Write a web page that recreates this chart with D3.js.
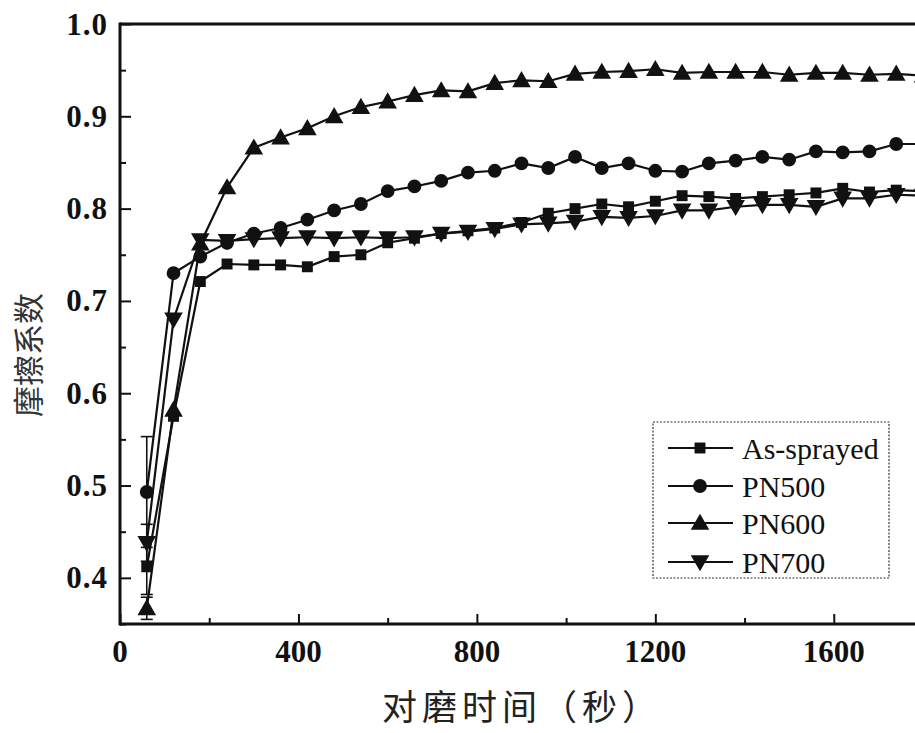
<!DOCTYPE html>
<html><head><meta charset="utf-8">
<script src="https://cdn.jsdelivr.net/npm/d3@7/dist/d3.min.js"></script>
<style>
html,body{margin:0;padding:0;background:#fff;overflow:hidden;}
svg{display:block;}
</style></head>
<body>
<script>
const times = [60,120,180,240,300,360,420,480,540,600,660,720,780,840,900,960,1020,1080,1140,1200,1260,1320,1380,1440,1500,1560,1620,1680,1740,1800];
const seriesNames = ["As-sprayed","PN500","PN600","PN700"];
const asSprayed = [0.412,0.575,0.721,0.740,0.739,0.739,0.737,0.748,0.750,0.763,0.768,0.773,0.776,0.779,0.785,0.795,0.800,0.805,0.802,0.808,0.814,0.813,0.811,0.813,0.815,0.817,0.822,0.818,0.820,0.819];
const pn500 = [0.493,0.730,0.748,0.763,0.773,0.779,0.788,0.798,0.805,0.819,0.824,0.830,0.839,0.841,0.849,0.844,0.856,0.844,0.849,0.841,0.840,0.849,0.852,0.856,0.853,0.862,0.861,0.862,0.870,0.870];
const pn600 = [0.367,0.582,0.762,0.823,0.866,0.877,0.887,0.900,0.910,0.916,0.923,0.928,0.927,0.936,0.939,0.938,0.946,0.948,0.949,0.951,0.947,0.948,0.948,0.948,0.945,0.947,0.947,0.945,0.946,0.944];
const pn700 = [0.438,0.680,0.766,0.765,0.767,0.768,0.769,0.768,0.769,0.768,0.769,0.773,0.775,0.778,0.783,0.784,0.786,0.791,0.790,0.792,0.798,0.798,0.802,0.804,0.804,0.802,0.811,0.811,0.815,0.814];
// error bar half-widths at the first point of each series
const firstErrors = [0.03, 0.06, 0.012, 0.02];
const xTicks = [0,400,800,1200,1600];
const yTicks = [0.4,0.5,0.6,0.7,0.8,0.9,1.0];
const xLabel = "对磨时间（秒）";
const yLabel = "摩擦系数";

const W = 915, H = 733;
const svg = d3.select("body").append("svg").attr("width", W).attr("height", H);

const x = d3.scaleLinear().domain([0, 1800]).range([120, 923]);
const y = d3.scaleLinear().domain([0.35, 1.0]).range([624, 24]);

const symbols = [d3.symbolSquare, d3.symbolCircle, d3.symbolTriangle, d3.symbolTriangle];
const symSizes = [120, 150, 150, 150];
const rot = [0, 0, 0, 180];
const allSeries = [asSprayed, pn500, pn600, pn700];

const plot = svg.append("g");

const line = d3.line().x((d,i)=>x(times[i])).y(d=>y(d));
allSeries.forEach((s, k) => {
  plot.append("path").datum(s).attr("d", line)
    .attr("fill","none").attr("stroke","#111").attr("stroke-width",2.2);
});
allSeries.forEach((s, k) => {
  const e = firstErrors[k], cx = x(times[0]);
  const g = plot.append("g").attr("stroke","#111").attr("stroke-width",1.6);
  g.append("line").attr("x1",cx).attr("x2",cx).attr("y1",y(s[0]-e)).attr("y2",y(s[0]+e));
  g.append("line").attr("x1",cx-6).attr("x2",cx+6).attr("y1",y(s[0]-e)).attr("y2",y(s[0]-e));
  g.append("line").attr("x1",cx-6).attr("x2",cx+6).attr("y1",y(s[0]+e)).attr("y2",y(s[0]+e));
});
allSeries.forEach((s, k) => {
  const sym = d3.symbol().type(symbols[k]).size(symSizes[k]);
  plot.append("g").selectAll("path").data(s).join("path")
    .attr("d", sym)
    .attr("transform", (d,i)=>`translate(${x(times[i])},${y(d) + (k===3? -1.5 : (k===2? 1.5:0))}) rotate(${rot[k]})`)
    .attr("fill","#111");
});

const xAxisMajor = d3.axisTop(x).tickValues(xTicks).tickSize(10).tickFormat("");
const xAxisMinor = d3.axisTop(x).tickValues(d3.range(200, 1800, 400)).tickSize(6).tickFormat("");
svg.append("g").attr("transform","translate(0,624)").call(xAxisMajor);
svg.append("g").attr("transform","translate(0,624)").call(xAxisMinor);
const yAxisMajor = d3.axisRight(y).tickValues(yTicks).tickSize(11).tickFormat("");
const yAxisMinor = d3.axisRight(y).tickValues([0.35,0.45,0.55,0.65,0.75,0.85,0.95]).tickSize(6).tickFormat("");
svg.append("g").attr("transform","translate(120,0)").call(yAxisMajor);
svg.append("g").attr("transform","translate(120,0)").call(yAxisMinor);
svg.selectAll(".domain").remove();
svg.selectAll(".tick line").attr("stroke","#111").attr("stroke-width",2);

svg.append("line").attr("x1",120).attr("x2",W).attr("y1",24).attr("y2",24).attr("stroke","#111").attr("stroke-width",3);
svg.append("line").attr("x1",120).attr("x2",W).attr("y1",624).attr("y2",624).attr("stroke","#111").attr("stroke-width",3);
svg.append("line").attr("x1",120).attr("x2",120).attr("y1",22.5).attr("y2",625.5).attr("stroke","#111").attr("stroke-width",3);

const tickFont = "'Liberation Serif','Times New Roman',serif";
svg.append("g").selectAll("text").data(xTicks).join("text")
  .attr("x", d=>x(d)).attr("y", 662)
  .attr("text-anchor","middle")
  .attr("font-family", tickFont).attr("font-weight","bold").attr("font-size",31)
  .attr("fill","#111").text(d=>d);
svg.append("g").selectAll("text").data(yTicks).join("text")
  .attr("x", 108).attr("y", d=>y(d)).attr("dy","0.34em")
  .attr("text-anchor","end")
  .attr("font-family", tickFont).attr("font-weight","bold").attr("font-size",31)
  .attr("letter-spacing", 1)
  .attr("fill","#111").text(d=>d.toFixed(1));

svg.append("text").attr("x", 522).attr("y", 720).attr("text-anchor","middle")
  .attr("font-family","'Noto Sans CJK SC',sans-serif").attr("font-size",35)
  .attr("letter-spacing", 5)
  .attr("fill","#222").text(xLabel);
svg.append("text").attr("transform","translate(40,355) rotate(-90)").attr("text-anchor","middle")
  .attr("font-family","'Noto Sans CJK SC',sans-serif").attr("font-size",31)
  .attr("fill","#333").text(yLabel);

const lg = svg.append("g");
lg.append("rect").attr("x",653).attr("y",422).attr("width",236).attr("height",156)
  .attr("fill","#fff").attr("stroke","#333").attr("stroke-width",1.2).attr("stroke-dasharray","2,1.5");
const rowY = [448, 486, 523, 562];
seriesNames.forEach((name, k) => {
  lg.append("line").attr("x1",668).attr("x2",733).attr("y1",rowY[k]).attr("y2",rowY[k])
    .attr("stroke","#111").attr("stroke-width",2.2);
  lg.append("path").attr("d", d3.symbol().type(symbols[k]).size(symSizes[k])())
    .attr("transform",`translate(700,${rowY[k] + (k===3? -1.5 : (k===2? 1.5:0))}) rotate(${rot[k]})`)
    .attr("fill","#111");
  lg.append("text").attr("x",742).attr("y",rowY[k]).attr("dy","0.35em")
    .attr("font-family", tickFont).attr("font-size",30).attr("fill","#111").text(name);
});
</script>
</body></html>
